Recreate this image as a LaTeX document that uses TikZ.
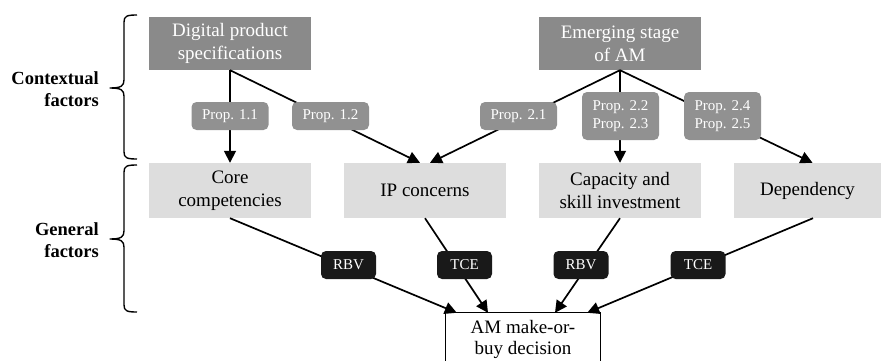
\documentclass[tikz,border=0pt]{standalone}
\usepackage{fontspec}
\setmainfont{Liberation Serif}
\usetikzlibrary{arrows.meta}
\definecolor{darkbox}{gray}{0.54}
\definecolor{propbox}{gray}{0.57}
\definecolor{lightbox}{gray}{0.865}
\definecolor{theorybox}{gray}{0.1}
\begin{document}
\begin{tikzpicture}[x=1pt,y=-1pt,
  topbox/.style={fill=darkbox, text=white, minimum width=162pt, minimum height=53pt,
    align=center, inner sep=0pt, font=\fontsize{19}{23}\selectfont},
  genbox/.style={fill=lightbox, text=black, minimum width=162pt, minimum height=55pt,
    align=center, inner sep=0pt, font=\fontsize{19}{23}\selectfont},
  decbox/.style={fill=white, text=black, minimum width=154pt, minimum height=52pt,
    align=center, inner sep=0pt, font=\fontsize{19}{21}\selectfont},
  proplabel/.style={fill=propbox, text=white, rounded corners=5pt, minimum width=77pt,
    minimum height=28pt, align=center, inner sep=0pt, font=\fontsize{15}{18}\selectfont},
  theory/.style={fill=theorybox, text=white, rounded corners=5pt, minimum width=55pt,
    minimum height=28pt, inner sep=0pt, font=\fontsize{15}{18}\selectfont},
  factor/.style={align=right, anchor=east, inner sep=0pt, font=\fontsize{18.5}{22}\selectfont\bfseries},
  link/.style={line width=1.7pt, -{Triangle[length=12pt,width=12pt]}},
  bracestyle/.style={line width=1.4pt, line join=round},
]
\useasboundingbox (0,0) rectangle (881,361);

% boxes
\node[topbox] (dps) at (230,43.5) {Digital product\\specifications};
\node[topbox] (ems) at (620,43.5) {Emerging stage\\of AM};
\node[genbox] (core) at (230,190.5) {Core\\competencies};
\node[genbox] (ip) at (425,190.5) {IP concerns};
\node[genbox] (cap) at (620,190.5) {Capacity and\\skill investment};
\node[genbox, minimum width=147pt] (dep) at (807.5,190.5) {Dependency};
\node[decbox] (dec) at (523,339) {AM make-or-\\buy decision};
\draw[line width=1.3pt] (dec.south west) -- (dec.north west) -- (dec.north east) -- (dec.south east);

% connectors (upper)
\draw[link] (dps.south) -- (core.north);
\draw[link] (dps.south) -- ([xshift=-5pt]ip.north);
\draw[link] (ems.south) -- ([xshift=5pt]ip.north);
\draw[link] (ems.south) -- (cap.north);
\draw[link] (ems.south) -- ([xshift=5pt]dep.north);

% connectors (lower)
\draw[link] (core.south) -- ([xshift=11pt]dec.north west);
\draw[link] (ip.south) -- ([xshift=-35pt]dec.north);
\draw[link] (cap.south) -- ([xshift=32pt]dec.north);
\draw[link] ([xshift=5.5pt]dep.south) -- ([xshift=-13pt]dec.north east);

% proposition labels
\node[proplabel] (p11) at (230,116) {Prop. 1.1};
\node[proplabel] (p12) at (330.5,116) {Prop. 1.2};
\node[proplabel] (p21) at (518.5,116) {Prop. 2.1};
\node[proplabel, minimum height=48pt] (p22) at (620.5,116) {Prop. 2.2\\Prop. 2.3};
\node[proplabel, minimum height=48pt] (p24) at (722.5,116) {Prop. 2.4\\Prop. 2.5};

% theory labels
\node[theory] (t1) at (348.5,265) {RBV};
\node[theory] (t2) at (464.5,265) {TCE};
\node[theory] (t3) at (581,265) {RBV};
\node[theory] (t4) at (698,265) {TCE};

% braces
\draw[bracestyle] (137,15) .. controls (127,15) and (124,16) .. (124,22) -- (124,80)
  .. controls (124,86) and (121,88) .. (110,88)
  .. controls (121,88) and (124,90) .. (124,96) -- (124,152)
  .. controls (124,158) and (127,159) .. (137,159);
\draw[bracestyle] (137,165) .. controls (127,165) and (124,166) .. (124,172) -- (124,231)
  .. controls (124,237) and (121,239) .. (110,239)
  .. controls (121,239) and (124,241) .. (124,247) -- (124,305)
  .. controls (124,311) and (127,312) .. (137,312);

% factor labels
\node[factor] (ctx) at (99,89) {Contextual\\factors};
\node[factor] (gen) at (99,240) {General\\factors};
\end{tikzpicture}
\end{document}
